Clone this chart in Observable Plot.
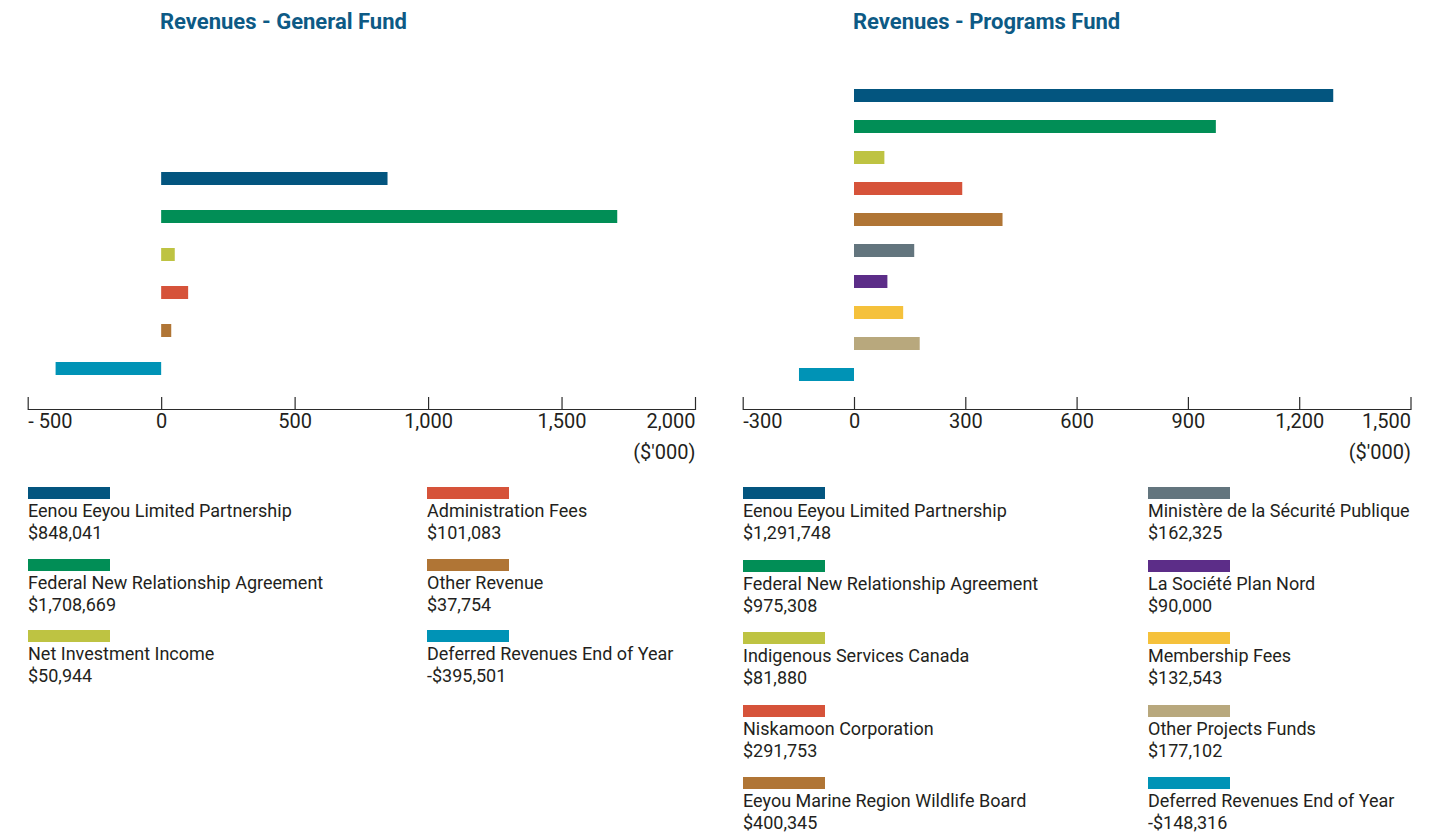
<!DOCTYPE html>
<html>
<head>
<meta charset="utf-8">
<script src="https://cdn.jsdelivr.net/npm/d3@7"></script>
<script src="https://cdn.jsdelivr.net/npm/@observablehq/plot@0.6"></script>
<style>
  body { margin: 0; background: #fff; font-family: Roboto, "Noto Sans", sans-serif; color: #231f20; }
  #wrap { display: flex; width: 1454px; }
  .panel { width: 727px; }
  .title { margin: 0; height: 44px; line-height: 44px; font-size: 22px; font-weight: 700; color: #0d5a85; white-space: nowrap; }
  .legend { display: grid; grid-auto-flow: column; margin-top: 13px; font-size: 18px; line-height: 22px; }
  .item .sw { width: 82px; height: 12px; margin-bottom: 1px; }
  svg { display: block; }
</style>
</head>
<body>
<div id="wrap">
  <div class="panel" id="left"></div>
  <div class="panel" id="right"></div>
</div>
<script>
// ---- General Fund ----
const generalTitle = "Revenues - General Fund";
const generalCategories = [
  "Eenou Eeyou Limited Partnership",
  "Federal New Relationship Agreement",
  "Net Investment Income",
  "Administration Fees",
  "Other Revenue",
  "Deferred Revenues End of Year"
];
const generalValues = [848041, 1708669, 50944, 101083, 37754, -395501];
const generalColors = ["#03557f", "#018e56", "#bec342", "#d6533a", "#b07535", "#0093b6"];
const generalTicks = [-500, 0, 500, 1000, 1500, 2000];

// ---- Programs Fund ----
const programsTitle = "Revenues - Programs Fund";
const programsCategories = [
  "Eenou Eeyou Limited Partnership",
  "Federal New Relationship Agreement",
  "Indigenous Services Canada",
  "Niskamoon Corporation",
  "Eeyou Marine Region Wildlife Board",
  "Ministère de la Sécurité Publique",
  "La Société Plan Nord",
  "Membership Fees",
  "Other Projects Funds",
  "Deferred Revenues End of Year"
];
const programsValues = [1291748, 975308, 81880, 291753, 400345, 162325, 90000, 132543, 177102, -148316];
const programsColors = ["#03557f", "#018e56", "#bec342", "#d6533a", "#b07535", "#63757e", "#5c2d88", "#f5c13b", "#b8a87d", "#0093b6"];
const programsTicks = [-300, 0, 300, 600, 900, 1200, 1500];

const unitLabel = "($'000)";

const fmtComma = d3.format(",");
const fmtMoney = v => (v < 0 ? "-$" : "$") + fmtComma(Math.abs(v));

function buildPanel(el, cfg) {
  const title = document.createElement("div");
  title.className = "title";
  title.style.paddingLeft = cfg.titleLeft + "px";
  title.textContent = cfg.title;
  el.appendChild(title);

  const data = cfg.cats.map((c, i) => ({cat: c, value: cfg.vals[i] / 1000, color: cfg.colors[i]}));
  const n = cfg.ticks.length;
  const tickData = cfg.ticks.map((t, i) => ({t, i}));
  const H = 430, MB = 65;
  const frameH = H - MB - cfg.mt;
  const textStyle = {fontSize: 20, fill: "#231f20", frameAnchor: "bottom", dy: 18.5};

  const plot = Plot.plot({
    width: 727, height: H,
    marginTop: cfg.mt, marginBottom: MB, marginLeft: cfg.ml, marginRight: cfg.mr,
    style: {fontFamily: "Roboto, 'Noto Sans', sans-serif", background: "transparent", overflow: "visible"},
    x: {domain: [cfg.ticks[0], cfg.ticks[n - 1]], axis: null},
    y: {domain: cfg.cats, axis: null, paddingInner: cfg.pi, paddingOuter: cfg.po},
    marks: [
      Plot.barX(data, {x: "value", y: "cat", fill: "color"}),
      Plot.frame({anchor: "bottom", stroke: "#2b2b2b", strokeWidth: 1.2}),
      Plot.ruleX(cfg.ticks, {x: d => d, stroke: "#2b2b2b", strokeWidth: 1.2, insetTop: frameH - 12}),
      Plot.text(tickData.filter(d => d.i === 0), {x: "t", text: d => cfg.fmt(d.t), textAnchor: "start", ...textStyle}),
      Plot.text(tickData.filter(d => d.i > 0 && d.i < n - 1), {x: "t", text: d => cfg.fmt(d.t), textAnchor: "middle", ...textStyle}),
      Plot.text(tickData.filter(d => d.i === n - 1), {x: "t", text: d => cfg.fmt(d.t), textAnchor: "end", ...textStyle}),
      Plot.text([{t: cfg.ticks[n - 1], label: unitLabel}], {x: "t", text: "label", textAnchor: "end", fontSize: 20, fill: "#231f20", frameAnchor: "bottom", dy: 49})
    ]
  });
  el.appendChild(plot);

  const legend = document.createElement("div");
  legend.className = "legend";
  legend.style.paddingLeft = cfg.legendLeft + "px";
  legend.style.gridTemplateColumns = cfg.colW + "px auto";
  legend.style.gridTemplateRows = `repeat(${Math.ceil(cfg.cats.length / 2)}, auto)`;
  legend.style.rowGap = cfg.rowGap + "px";
  cfg.cats.forEach((c, i) => {
    const it = document.createElement("div");
    it.className = "item";
    const sw = document.createElement("div");
    sw.className = "sw";
    sw.style.background = cfg.colors[i];
    const l1 = document.createElement("div");
    l1.textContent = c;
    const l2 = document.createElement("div");
    l2.textContent = fmtMoney(cfg.vals[i]);
    it.append(sw, l1, l2);
    legend.appendChild(it);
  });
  el.appendChild(legend);
}

buildPanel(document.getElementById("left"), {
  title: generalTitle, titleLeft: 160,
  cats: generalCategories, vals: generalValues, colors: generalColors, ticks: generalTicks,
  fmt: d => d < 0 ? "- " + fmtComma(-d) : fmtComma(d),
  mt: 93, ml: 27.7, mr: 32, pi: 0.663, po: 0.855, legendLeft: 28, colW: 399, rowGap: 14.5
});
buildPanel(document.getElementById("right"), {
  title: programsTitle, titleLeft: 126,
  cats: programsCategories, vals: programsValues, colors: programsColors, ticks: programsTicks,
  fmt: d => d < 0 ? "-" + fmtComma(-d) : fmtComma(d),
  mt: 15.6, ml: 15.7, mr: 43.5, pi: 0.595, po: 0.873, legendLeft: 16, colW: 405, rowGap: 15.5
});
</script>
</body>
</html>
